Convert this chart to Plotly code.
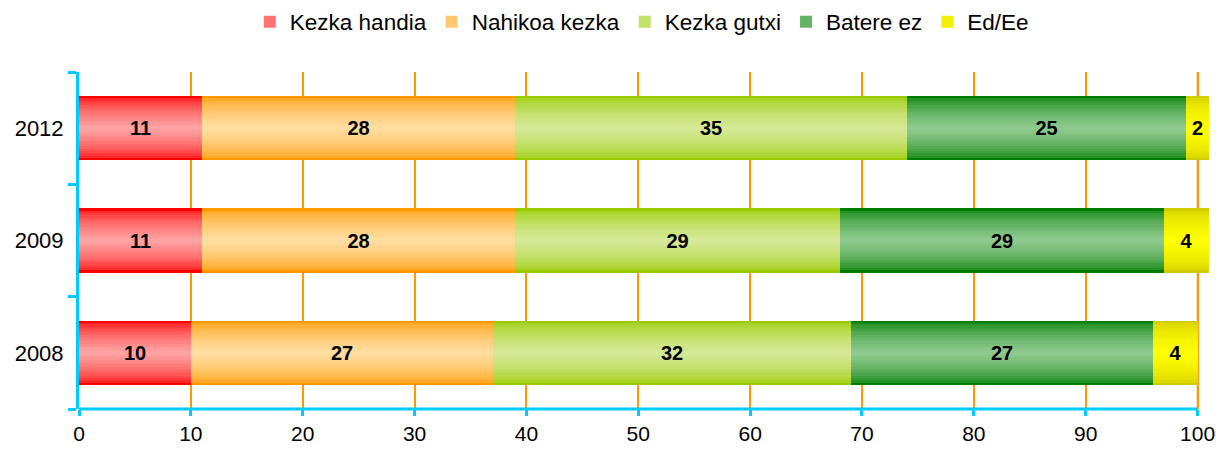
import plotly.graph_objects as go
import numpy as np

years = ["2008", "2009", "2012"]
series_names = ["Kezka handia", "Nahikoa kezka", "Kezka gutxi", "Batere ez", "Ed/Ee"]
kezka_handia = [10, 11, 11]
nahikoa_kezka = [27, 28, 28]
kezka_gutxi = [32, 29, 35]
batere_ez = [27, 29, 25]
ed_ee = [4, 4, 2]
x_ticks = [0, 10, 20, 30, 40, 50, 60, 70, 80, 90, 100]

values = [kezka_handia, nahikoa_kezka, kezka_gutxi, batere_ez, ed_ee]
edge_colors = [(255, 0, 0), (255, 153, 0), (153, 204, 0), (0, 125, 0), (210, 205, 0)]
center_colors = [(255, 162, 162), (255, 221, 160), (213, 233, 150), (142, 202, 142), (255, 255, 0)]

BAR_W = 0.57
N_LAYERS = 14
FONT = "Liberation Sans, Arial, sans-serif"

fig = go.Figure()
bases = np.zeros(len(years))
for name, vals, ec, cc in zip(series_names, values, edge_colors, center_colors):
    vals = np.array(vals, dtype=float)
    for k in range(N_LAYERS):
        frac = k / (N_LAYERS - 1)
        t = frac ** 0.55
        col = tuple(int(round(ec[i] + (cc[i] - ec[i]) * t)) for i in range(3))
        w = BAR_W * (1 - k / N_LAYERS)
        show = (k == N_LAYERS // 2)
        fig.add_trace(go.Bar(
            y=years, x=vals, base=bases, orientation="h",
            width=w, marker=dict(color="rgb(%d,%d,%d)" % col, line=dict(width=0)),
            name=name, legendgroup=name, showlegend=show,
            hoverinfo="skip", legendrank=series_names.index(name) + 1,
        ))
    fig.add_trace(go.Bar(
        y=years, x=vals, base=bases, orientation="h", width=BAR_W,
        marker=dict(color="rgba(0,0,0,0)", line=dict(width=0)),
        text=["%d" % v for v in vals], textposition="inside",
        insidetextanchor="middle", constraintext="none",
        textfont=dict(family=FONT, size=20, color="black", weight="bold"),
        showlegend=False, legendgroup=name, hoverinfo="skip",
    ))
    bases = bases + vals

fig.update_layout(
    barmode="overlay",
    width=1216, height=450,
    margin=dict(l=79, r=0, t=72, b=41, autoexpand=False),
    paper_bgcolor="white", plot_bgcolor="white",
    font=dict(family=FONT, size=21, color="black"),
    legend=dict(orientation="h", x=0.495, xanchor="center", yref="container",
                y=1 - 22 / 450, yanchor="middle", itemwidth=30,
                font=dict(family=FONT, size=22.5), traceorder="normal"),
    xaxis=dict(range=[0, 101.65], tickvals=x_ticks, showgrid=True, gridcolor="#ff9900",
               gridwidth=1.5, zeroline=False, showline=False, automargin=False,
               ticks="outside", ticklen=6, tickwidth=3, tickcolor="#00ccff",
               tickfont=dict(family=FONT, size=21)),
    yaxis=dict(type="category", categoryorder="array", categoryarray=years,
               range=[-0.5, 2.5], tickson="boundaries", ticks="outside", ticklen=8,
               tickwidth=3, tickcolor="#00ccff", showline=True, linecolor="#00ccff",
               linewidth=3, showgrid=False, zeroline=False, automargin=False,
               ticklabelstandoff=8,
               tickfont=dict(family=FONT, size=22)),
    bargap=0,
)
fig.add_shape(type="line", xref="x", yref="paper", x0=x_ticks[-1], x1=x_ticks[-1], y0=0, y1=1,
              line=dict(color="#fbe2c6", width=3), layer="between")
fig.add_shape(type="line", xref="x", yref="paper", x0=x_ticks[0], x1=x_ticks[-1], y0=0, y1=0,
              line=dict(color="#00ccff", width=3), layer="above")
fig.write_html("out.html", config={"displayModeBar": False},
               post_script="document.body.style.margin='0px';")
